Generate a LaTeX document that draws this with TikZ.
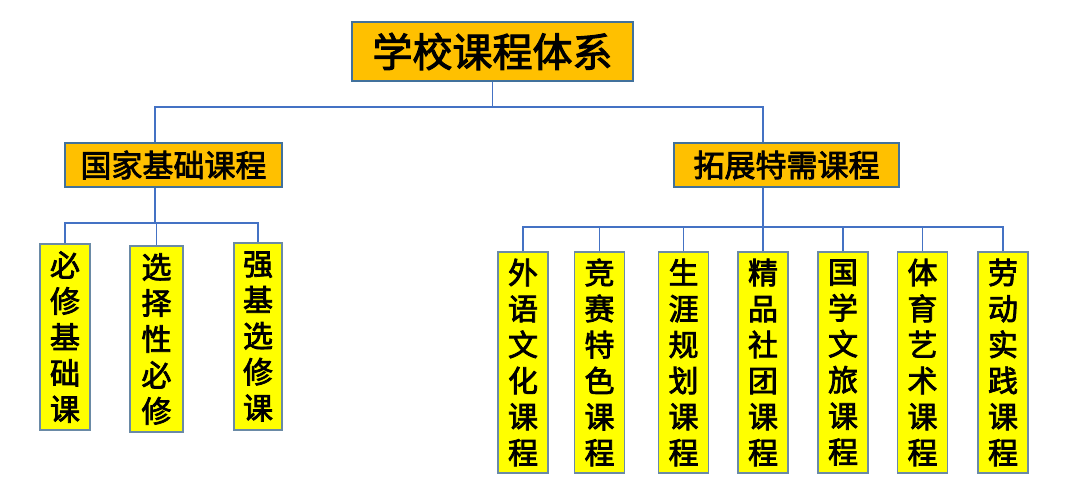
\documentclass[tikz,border=0pt]{standalone}
\usepackage{fontspec}
\newfontfamily\cjk[FakeBold=2.5]{Noto Sans CJK SC}
\usepackage{tikz}
\usetikzlibrary{positioning}
\definecolor{headfill}{HTML}{FFC000}
\definecolor{headline}{HTML}{41719C}
\definecolor{leaffill}{HTML}{FFFF00}
\definecolor{leafline}{HTML}{6A8AA6}
\definecolor{linkblue}{HTML}{4472C4}
\tikzset{
  rootbox/.style={draw=headline, fill=headfill, line width=1.2pt, inner sep=0pt,
    minimum width=281pt, minimum height=59pt, font=\cjk\fontsize{40}{42}\selectfont},
  midbox/.style={draw=headline, fill=headfill, line width=1.2pt, inner sep=0pt,
    minimum height=44pt, font=\cjk\fontsize{31}{33}\selectfont},
  leafbox/.style={draw=leafline, fill=leaffill, line width=1.2pt, inner sep=0pt,
    minimum width=50pt, align=center, font=\cjk\fontsize{30}{36}\selectfont},
  link/.style={draw=linkblue, line width=1.5pt}
}
\begin{document}
\begin{tikzpicture}[x=1pt, y=-1pt]
    \useasboundingbox (0,0) rectangle (1080,494);

    % Radice
    \node[rootbox] (root) at (492.5, 51.5) {学校课程体系};

    % Due rami
    \node[midbox, minimum width=217pt] (nat) at (173.5, 165) {国家基础课程};
    \node[midbox, minimum width=225pt] (ext) at (786.5, 165) {拓展特需课程};

    % Colonne e bus dei collegamenti
    \coordinate (colL) at (155, 0);
    \coordinate (colR) at (763, 0);
    \coordinate (bus0) at (0, 107);
    \coordinate (bus1) at (0, 223);
    \coordinate (bus2) at (0, 227);

    % Corsi di base
    \node[leafbox, minimum height=186pt] (n1) at (65, 337) {必\\修\\基\\础\\课};
    \node[leafbox, minimum height=186pt, minimum width=53pt] (n2) at (156.5, 339) {选\\择\\性\\必\\修};
    \node[leafbox, minimum height=187pt, minimum width=48pt] (n3) at (258, 336.5) {强\\基\\选\\修\\课};

    % Corsi estesi
    \foreach \name/\x/\txt in {e1/523/外\\语\\文\\化\\课\\程, e2/599.5/竞\\赛\\特\\色\\课\\程,
        e3/683.5/生\\涯\\规\\划\\课\\程, e4/763/精\\品\\社\\团\\课\\程,
        e5/843/国\\学\\文\\旅\\课\\程, e6/922.5/体\\育\\艺\\术\\课\\程,
        e7/1003/劳\\动\\实\\践\\课\\程} {
        \node[leafbox, minimum height=221pt] (\name) at (\x, 362.5) {\txt};
    }

    % Collegamenti
    \draw[link] (root.south) -- (root.south |- bus0);
    \draw[link] (colL |- nat.north) |- (colR |- bus0) -- (colR |- ext.north);

    \draw[link] (colL |- nat.south) -- (colL |- bus1);
    \draw[link] (n1.north) |- (n3.north |- bus1) -- (n3.north);
    \draw[link] (n2.north) -- (n2.north |- bus1);

    \draw[link] (colR |- ext.south) -- (colR |- bus2);
    \draw[link] (e1.north) |- (e7.north |- bus2) -- (e7.north);
    \foreach \name in {e2, e3, e4, e5, e6} {
        \draw[link] (\name.north) -- (\name.north |- bus2);
    }

\end{tikzpicture}
\end{document}
